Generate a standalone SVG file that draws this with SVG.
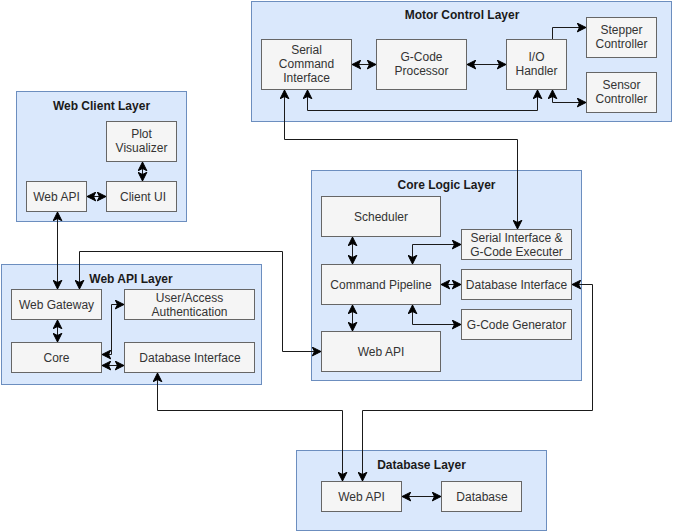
<svg xmlns="http://www.w3.org/2000/svg" width="673" height="532" viewBox="0 0 673 532">
<style>
.layer{fill:#dae8fc;stroke:#6c8ebf;stroke-width:1}
.node{fill:#f5f5f5;stroke:#666666;stroke-width:1}
.t{font-family:"Liberation Sans",Arial,sans-serif;font-size:12px;fill:#333333;text-anchor:middle}
.title{font-family:"Liberation Sans",Arial,sans-serif;font-size:12px;font-weight:bold;fill:#1a1a1a;text-anchor:middle}
.c{fill:none;stroke:#1a1a1a;stroke-width:1}
.b{marker-start:url(#ah);marker-end:url(#ah)}
.e{marker-end:url(#ah)}
</style>
<defs>
<marker id="ah" markerUnits="userSpaceOnUse" markerWidth="10" markerHeight="10" viewBox="0 0 8 8" refX="7.5" refY="4" orient="auto-start-reverse">
<path d="M0.5,0.5 L7.5,4 L0.5,7.5 L2.3,4 Z" fill="#000" stroke="#000" stroke-width="0.8"/>
</marker>
</defs>
<rect width="673" height="532" fill="#ffffff"/>

<g id="layer-motor">
<rect class="layer" x="251.5" y="1.5" width="420" height="120"/>
<text class="title" x="462" y="19">Motor Control Layer</text>
</g>
<g id="layer-webclient">
<rect class="layer" x="16.5" y="91.5" width="170" height="130"/>
<text class="title" x="101.5" y="110">Web Client Layer</text>
</g>
<g id="layer-webapi">
<rect class="layer" x="1.5" y="264.5" width="260" height="120"/>
<text class="title" x="131" y="283">Web API Layer</text>
</g>
<g id="layer-core">
<rect class="layer" x="311.5" y="170.5" width="270" height="210"/>
<text class="title" x="446.5" y="189">Core Logic Layer</text>
</g>
<g id="layer-db">
<rect class="layer" x="296.5" y="450.5" width="250" height="80"/>
<text class="title" x="421.5" y="469">Database Layer</text>
</g>

<g id="serial-command-interface">
<rect class="node" x="261.5" y="39.5" width="90" height="50"/>
<text class="t" x="306.5" y="54">Serial</text>
<text class="t" x="306.5" y="68">Command</text>
<text class="t" x="306.5" y="82">Interface</text>
</g>
<g id="gcode-processor">
<rect class="node" x="376.5" y="39.5" width="90" height="50"/>
<text class="t" x="421.5" y="61">G-Code</text>
<text class="t" x="421.5" y="75">Processor</text>
</g>
<g id="io-handler">
<rect class="node" x="506.5" y="39.5" width="60" height="50"/>
<text class="t" x="536.5" y="61">I/O</text>
<text class="t" x="536.5" y="75">Handler</text>
</g>
<g id="stepper-controller">
<rect class="node" x="586.5" y="17.5" width="70" height="40"/>
<text class="t" x="621.5" y="34">Stepper</text>
<text class="t" x="621.5" y="48">Controller</text>
</g>
<g id="sensor-controller">
<rect class="node" x="586.5" y="72.5" width="70" height="40"/>
<text class="t" x="621.5" y="89">Sensor</text>
<text class="t" x="621.5" y="103">Controller</text>
</g>

<g id="plot-visualizer">
<rect class="node" x="106.5" y="121.5" width="70" height="40"/>
<text class="t" x="141.5" y="138">Plot</text>
<text class="t" x="141.5" y="152">Visualizer</text>
</g>
<g id="client-web-api">
<rect class="node" x="26.5" y="181.5" width="60" height="30"/>
<text class="t" x="56.5" y="201">Web API</text>
</g>
<g id="client-ui">
<rect class="node" x="106.5" y="181.5" width="70" height="30"/>
<text class="t" x="143" y="201">Client UI</text>
</g>

<g id="web-gateway">
<rect class="node" x="11.5" y="289.5" width="90" height="30"/>
<text class="t" x="56.5" y="309">Web Gateway</text>
</g>
<g id="user-access-auth">
<rect class="node" x="124.5" y="289.5" width="130" height="30"/>
<text class="t" x="189.5" y="302">User/Access</text>
<text class="t" x="189.5" y="316">Authentication</text>
</g>
<g id="webapi-core">
<rect class="node" x="11.5" y="342.5" width="90" height="30"/>
<text class="t" x="56.5" y="362">Core</text>
</g>
<g id="webapi-db-interface">
<rect class="node" x="124.5" y="342.5" width="130" height="30"/>
<text class="t" x="190" y="362">Database Interface</text>
</g>

<g id="scheduler">
<rect class="node" x="321.5" y="196.5" width="119" height="40"/>
<text class="t" x="381" y="221">Scheduler</text>
</g>
<g id="command-pipeline">
<rect class="node" x="321.5" y="264.5" width="119" height="40"/>
<text class="t" x="381" y="289">Command Pipeline</text>
</g>
<g id="core-web-api">
<rect class="node" x="321.5" y="331.5" width="119" height="40"/>
<text class="t" x="381" y="356">Web API</text>
</g>
<g id="serial-interface-executer">
<rect class="node" x="461.5" y="229.5" width="110" height="30"/>
<text class="t" x="516.5" y="242">Serial Interface &amp;</text>
<text class="t" x="516.5" y="256">G-Code Executer</text>
</g>
<g id="core-db-interface">
<rect class="node" x="461.5" y="269.5" width="110" height="30"/>
<text class="t" x="516.5" y="289">Database Interface</text>
</g>
<g id="gcode-generator">
<rect class="node" x="461.5" y="309.5" width="110" height="30"/>
<text class="t" x="516.5" y="329">G-Code Generator</text>
</g>

<g id="db-web-api">
<rect class="node" x="321.5" y="481.5" width="80" height="30"/>
<text class="t" x="361.5" y="501">Web API</text>
</g>
<g id="database">
<rect class="node" x="441.5" y="481.5" width="80" height="30"/>
<text class="t" x="482" y="501">Database</text>
</g>

<g id="connectors">
<path class="c b" d="M352,64.5 H376"/>
<path class="c b" d="M467,64.5 H506"/>
<path class="c e" d="M552.5,39 V27.5 H586"/>
<path class="c b" d="M552.5,90 V102.5 H586"/>
<path class="c b" d="M307.5,90 V110.5 H537.5 V90"/>
<path class="c b" d="M284.5,90 V139.5 H517.5 V229"/>
<path class="c b" d="M87,196.5 H106"/>
<path class="c b" d="M142.5,162 V181"/>
<path class="c b" d="M57.5,212 V289"/>
<path class="c b" d="M57.5,320 V342"/>
<path class="c b" d="M102,365.5 H124"/>
<path class="c b" d="M102,354.5 H111.5 V304.5 H124"/>
<path class="c b" d="M79.5,289 V251.5 H282.5 V351.5 H321"/>
<path class="c b" d="M157.5,373 V410.5 H342.5 V481"/>
<path class="c b" d="M572,284.5 H592.5 V410.5 H362.5 V481"/>
<path class="c b" d="M352.5,237 V264"/>
<path class="c b" d="M352.5,305 V331"/>
<path class="c b" d="M412.5,264 V244.5 H461"/>
<path class="c b" d="M441,284.5 H461"/>
<path class="c b" d="M412.5,305 V324.5 H461"/>
<path class="c b" d="M402,496.5 H441"/>
</g>
</svg>
